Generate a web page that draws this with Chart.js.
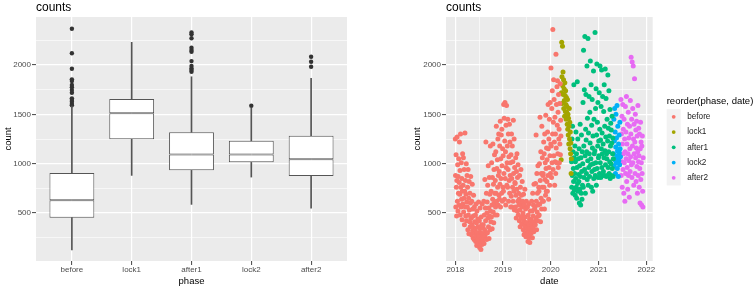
<!DOCTYPE html>
<html>
<head>
<meta charset="utf-8">
<script src="https://cdn.jsdelivr.net/npm/chart.js@4.4.1/dist/chart.umd.min.js"></script>
<style>
html, body { margin: 0; padding: 0; background: #fff; }
#wrap { position: relative; width: 756px; height: 289px; }
#boxChart { position: absolute; left: 0; top: 0; }
#dateChart { position: absolute; left: 380px; top: 0; }
</style>
</head>
<body>
<div id="wrap">
  <canvas id="boxChart" width="380" height="289"></canvas>
  <canvas id="dateChart" width="376" height="289"></canvas>
</div>
<script>
// ---- data ----
const phases = ['before', 'lock1', 'after1', 'lock2', 'after2'];
const phaseColors = ['#F8766D', '#A3A500', '#00BF7D', '#00B0F6', '#E76BF3'];

// boxplot stats
const whiskerLow = [125, 881, 587, 864, 548];
const q1 = [452, 1247, 932, 1013, 874];
const median = [628, 1510, 1094, 1094, 1044];
const q3 = [905, 1655, 1318, 1232, 1283];
const whiskerHigh = [1585, 2230, 1881, 1561, 1865];
const outliers = [
  [1591, 1605, 1628, 1645, 1662, 1719, 1746, 1774, 1797, 1838, 1855, 1963, 2119, 2368],
  [],
  [1932, 1949, 1966, 1990, 2040, 2135, 2152, 2175, 2271, 2311, 2331],
  [1587],
  [1983, 2033, 2084]
];

// scatter: counts every other day, one list per phase
const dayStep = 2;
const phaseStart = ['2018-01-01', '2020-03-21', '2020-06-08', '2021-04-26', '2021-06-19'];
const beforeCounts = [
  1250, 880, 560, 1090, 760, 470, 830, 1270, 620, 990, 520, 870, 700, 1050, 580, 810,
  1220, 690, 930, 480, 1300, 760, 560, 1010, 640, 850, 430, 720, 1100, 590,
  780, 1060, 510, 650, 940, 380, 720, 1310, 560, 830, 470, 690, 1000, 420, 610, 880,
  560, 760, 330, 940, 480, 650, 290, 820, 530, 410, 700, 360, 600, 870, 450,
  450, 280, 620, 380, 790, 320, 540, 250, 470, 680, 350, 230, 560, 410, 300,
  330, 480, 210, 590, 270, 400, 170, 520, 300, 230, 440, 360, 190, 610, 280,
  260, 420, 150, 340, 550, 210, 300, 130, 460, 240, 380, 180, 590, 290, 220, 350,
  380, 260, 620, 190, 480, 330, 840, 270, 550, 420, 1220, 300, 700, 230, 500,
  610, 300, 780, 450, 980, 360, 550, 240, 860, 470, 690, 330, 1180, 520, 410,
  720, 460, 1010, 580, 340, 860, 640, 1200, 510, 790, 400, 940, 600, 1090, 700, 480,
  830, 560, 1120, 700, 1380, 620, 950, 480, 1040, 760, 1250, 580, 880, 1300, 680,
  920, 640, 1180, 790, 1430, 560, 1050, 850, 1290, 700, 1350, 980, 620, 1150, 760,
  1080, 720, 1600, 900, 1460, 640, 1230, 1620, 850, 1120, 580, 1390, 960, 1590, 780, 1010,
  1180, 760, 1450, 940, 1300, 620, 1070, 830, 1400, 700, 1220, 880, 1010, 560,
  1090, 670, 1300, 850, 560, 1180, 760, 1020, 620, 1440, 900, 720, 1250, 530, 960, 810,
  800, 560, 1060, 680, 450, 920, 740, 1100, 520, 860, 620, 990, 480, 700, 580,
  640, 420, 880, 530, 360, 760, 600, 940, 450, 680, 390, 560, 820, 470, 620,
  500, 330, 690, 420, 280, 580, 370, 740, 300, 460, 540, 260, 400, 620, 350,
  400, 260, 560, 330, 210, 480, 300, 590, 250, 380, 440, 200, 340, 520, 290, 420,
  430, 300, 620, 380, 520, 250, 700, 350, 470, 580, 310, 790, 410, 540, 330,
  560, 380, 800, 450, 1290, 620, 330, 900, 510, 700, 420, 980, 580, 470, 760,
  720, 480, 1000, 590, 1470, 830, 410, 1120, 650, 900, 540, 1380, 760, 1060, 620, 880,
  900, 620, 1220, 760, 1100, 540, 1300, 840, 1010, 680, 1490, 950, 720, 1160, 820,
  1040, 720, 1320, 880, 1600, 1150, 640, 1250, 960, 1450, 780, 1080, 1620, 900, 1200, 1970,
  1180, 860, 1560, 1010, 1740, 1300, 2360, 940, 1420, 1850, 1080, 1650, 1220, 780, 1470, 1020,
  1300, 900, 2110, 1160, 1600, 1010, 1780, 1390, 1840, 1100, 1520, 960, 1700, 1250,
  1350, 1010, 1610, 1200, 1810, 1090, 1440, 1280
];
const lock1Counts = [
  1040, 1720, 2230, 1880, 1610, 2190, 1790,
  1930, 1700, 1850, 1560, 1760, 1640, 1480, 1820, 1690, 1530, 1740, 1600, 1450, 1670, 1520,
  1580, 1400, 1650, 1350, 1500, 1290, 1460, 1200, 1380, 1560, 1250, 1420, 1150, 1320, 1100,
  1210, 900, 1050
];
const after1Counts = [
  1020, 760, 1250, 880, 1380, 700, 1120, 950, 820, 1800, 1060, 730,
  900, 1180, 680, 1020, 850, 1320, 760, 1100, 650, 960, 1830, 800, 1250, 720, 1050, 890,
  820, 1150, 600, 980, 740, 1400, 870, 580, 1060, 700, 1290, 920, 640, 1120, 780,
  1000, 1620, 760, 2150, 1180, 860, 1750, 940, 2290, 1080, 700, 1350, 1700, 1240, 900,
  1120, 1990, 840, 1460, 1030, 2270, 780, 1310, 960, 1680, 1100, 870, 1520, 1210, 2040, 990,
  1050, 1800, 760, 1390, 920, 1650, 1160, 720, 1280, 1000, 1940, 850, 1450, 1100, 940,
  1130, 2330, 880, 1560, 1010, 1760, 780, 1290, 2010, 950, 1420, 1180, 1620, 860, 1060, 1230,
  1080, 1720, 900, 1350, 1990, 1010, 1240, 860, 1580, 1150, 1950, 960, 1310, 1100, 1680, 880,
  1200, 920, 1530, 1060, 1800, 880, 1380, 1130, 1960, 990, 1270, 1660, 870, 1100,
  1050, 1450, 880, 1230, 1900, 960, 1360, 1120, 1740, 900, 1280, 1020, 1550, 850, 1180, 1410,
  1000, 1340, 880, 1210, 1480, 950, 1100, 1260, 870, 1050
];
const lock2Counts = [
  1100, 1450, 980, 1230, 1560, 1040, 1320, 900, 1170, 1500, 1010, 1260, 1080, 1590,
  950, 1130, 1380, 1060, 870, 1200, 1030, 1290, 1110, 990, 1420, 1150, 1070
];
const after2Counts = [
  1080, 1650, 880, 1300, 1020, 1480, 760, 1200,
  1600, 940, 1350, 1100, 700, 1450, 1010, 1250, 620, 1120, 1580, 900, 1320, 1050, 1680, 820,
  1200, 960, 1400, 740, 1100, 1520, 880, 1260, 1030, 660, 1380, 1150, 920, 1640, 1070,
  1300, 2080, 990, 1450, 860, 2030, 1180, 1560, 1010, 1990, 1250, 780, 1400, 1100, 1860,
  1220, 900, 1500, 1060, 1340, 820, 1160, 1430, 970, 1280, 700, 1120, 1590, 880, 1020, 1360,
  1080, 760, 1300, 950, 600, 1150, 1420, 840, 1220, 1010, 580, 1180, 900, 1280, 720,
  560, 1060
];
const phaseCounts = [beforeCounts, lock1Counts, after1Counts, lock2Counts, after2Counts];

// axis ticks
const countTicks = [250, 500, 750, 1000, 1250, 1500, 1750, 2000, 2250];
const yearTicks = [2018, 2019, 2020, 2021, 2022];
const midYearTicks = [2018, 2019, 2020, 2021];

// ---- shared styling ----
const FONT = '"Liberation Sans", Arial, sans-serif';
Chart.defaults.font.family = FONT;

const panelBg = {
  id: 'panelBg',
  beforeDraw(chart) {
    const { ctx, chartArea: a } = chart;
    ctx.save();
    ctx.fillStyle = '#EBEBEB';
    ctx.fillRect(a.left, a.top, a.right - a.left, a.bottom - a.top);
    ctx.restore();
  }
};

const panelTitle = {
  id: 'panelTitle',
  afterDraw(chart, args, opts) {
    const { ctx, chartArea: a } = chart;
    ctx.save();
    ctx.font = '12px ' + FONT;
    ctx.fillStyle = '#000';
    ctx.textBaseline = 'middle';
    ctx.textAlign = 'left';
    ctx.fillText(opts.text, a.left, 8);
    ctx.restore();
  }
};

function isMajor(ctx, test) {
  return ctx.tick ? test(ctx.tick.value) : true;
}

function gridFor(test) {
  return {
    offset: false,
    color: '#FFFFFF',
    lineWidth: ctx => isMajor(ctx, test) ? 1.2 : 0.6,
    drawTicks: true,
    tickLength: 4,
    tickWidth: 1,
    tickColor: ctx => isMajor(ctx, test) ? '#444444' : 'rgba(0,0,0,0)'
  };
}

const countMajor = v => v % 500 === 0;

function countAxis(titlePad, width) {
  return {
    type: 'linear',
    min: 13,
    max: 2487,
    afterBuildTicks: s => { s.ticks = countTicks.map(v => ({ value: v })); },
    afterFit: s => { s.width = width; },
    grid: gridFor(countMajor),
    border: { display: false },
    ticks: {
      padding: 1,
      color: '#4D4D4D',
      font: { size: 8 },
      callback: v => countMajor(v) ? String(v) : ''
    },
    title: {
      display: true,
      text: 'count',
      color: '#000',
      font: { size: 9.5 },
      padding: { top: titlePad, bottom: 0 }
    }
  };
}

// ---- left: boxplot ----
const boxX = phases.map((p, i) => i + 1);
const boxPair = (lo, hi) => boxX.map((x, i) => ({ x: x, y: [lo[i], hi[i]] }));
const outlierPoints = [];
outliers.forEach((list, i) => list.forEach(v => outlierPoints.push({ x: boxX[i], y: v })));

const boxStyle = {
  backgroundColor: '#FFFFFF',
  borderColor: '#555555',
  borderWidth: 1,
  borderSkipped: false,
  grouped: false,
  barPercentage: 0.75,
  categoryPercentage: 1
};
const whiskerStyle = {
  backgroundColor: '#555555',
  borderWidth: 0,
  grouped: false,
  barThickness: 1
};

new Chart(document.getElementById('boxChart'), {
  type: 'bar',
  data: {
    datasets: [
      Object.assign({ label: 'whisker low', data: boxPair(whiskerLow, q1) }, whiskerStyle),
      Object.assign({ label: 'whisker high', data: boxPair(q3, whiskerHigh) }, whiskerStyle),
      Object.assign({ label: 'lower box', data: boxPair(q1, median) }, boxStyle),
      Object.assign({ label: 'upper box', data: boxPair(median, q3) }, boxStyle),
      {
        type: 'line',
        label: 'outliers',
        data: outlierPoints,
        showLine: false,
        pointRadius: 2.2,
        pointBorderWidth: 0,
        pointBackgroundColor: '#333333'
      }
    ]
  },
  options: {
    responsive: false,
    animation: false,
    layout: { padding: { left: 0, right: 33, top: 17, bottom: 0 } },
    plugins: {
      legend: { display: false },
      tooltip: { enabled: false },
      panelTitle: { text: 'counts' }
    },
    scales: {
      x: {
        type: 'linear',
        min: 0.4,
        max: 5.6,
        offset: false,
        afterBuildTicks: s => { s.ticks = boxX.map(v => ({ value: v })); },
        afterFit: s => { s.height = 28; },
        grid: gridFor(() => true),
        border: { display: false },
        ticks: {
          padding: 0,
          color: '#4D4D4D',
          font: { size: 8 },
          callback: v => phases[v - 1]
        },
        title: {
          display: true,
          text: 'phase',
          color: '#000',
          font: { size: 9.5 },
          padding: { top: 0, bottom: 2.3 }
        }
      },
      y: countAxis(2.3, 36)
    }
  },
  plugins: [panelBg, panelTitle]
});

// ---- right: counts over time ----
const DAY = 86400000;
const scatterSets = phases.map((p, k) => ({
  label: p,
  data: phaseCounts[k].map((v, i) => ({ x: Date.parse(phaseStart[k]) + i * dayStep * DAY, y: v })),
  backgroundColor: phaseColors[k],
  pointRadius: 2.5,
  pointBorderWidth: 0
}));

const yearMs = y => Date.UTC(y, 0, 1);
const midYearMs = y => Date.UTC(y, 6, 2);
const dateMajor = v => new Date(v).getUTCMonth() === 0;

const phaseLegend = {
  id: 'phaseLegend',
  afterDraw(chart, args, opts) {
    const ctx = chart.ctx;
    const sets = chart.data.datasets;
    ctx.save();
    ctx.fillStyle = '#000';
    ctx.font = '9.5px ' + FONT;
    ctx.textBaseline = 'middle';
    ctx.textAlign = 'left';
    ctx.fillText(opts.title, opts.x, opts.titleY);
    ctx.fillStyle = '#F2F2F2';
    ctx.fillRect(opts.x, opts.top, opts.key, opts.rowH * sets.length);
    ctx.font = '8.2px ' + FONT;
    sets.forEach((ds, i) => {
      const cy = opts.top + opts.rowH * (i + 0.5);
      ctx.fillStyle = ds.backgroundColor;
      ctx.beginPath();
      ctx.arc(opts.x + opts.key / 2, cy, 1.9, 0, Math.PI * 2);
      ctx.fill();
      ctx.fillStyle = '#1A1A1A';
      ctx.fillText(ds.label, opts.x + 20.5, cy);
    });
    ctx.restore();
  }
};

new Chart(document.getElementById('dateChart'), {
  type: 'scatter',
  data: { datasets: scatterSets },
  options: {
    responsive: false,
    animation: false,
    layout: { padding: { left: 0, right: 103.3, top: 17, bottom: 0 } },
    plugins: {
      legend: { display: false },
      tooltip: { enabled: false },
      panelTitle: { text: 'counts' },
      phaseLegend: { title: 'reorder(phase, date)', x: 286.7, titleY: 101.5, top: 109.2, rowH: 15.25, key: 14 }
    },
    scales: {
      x: {
        type: 'linear',
        min: Date.UTC(2017, 9, 22),
        max: Date.UTC(2022, 1, 19),
        afterBuildTicks: s => {
          const t = yearTicks.map(y => ({ value: yearMs(y) }))
            .concat(midYearTicks.map(y => ({ value: midYearMs(y) })));
          t.sort((a, b) => a.value - b.value);
          s.ticks = t;
        },
        afterFit: s => { s.height = 28; },
        grid: gridFor(dateMajor),
        border: { display: false },
        ticks: {
          padding: 0,
          color: '#4D4D4D',
          font: { size: 8 },
          callback: v => dateMajor(v) ? String(new Date(v).getUTCFullYear()) : ''
        },
        title: {
          display: true,
          text: 'date',
          color: '#000',
          font: { size: 9.5 },
          padding: { top: 0, bottom: 2.3 }
        }
      },
      y: countAxis(31.8, 66)
    }
  },
  plugins: [panelBg, panelTitle, phaseLegend]
});
</script>
</body>
</html>
